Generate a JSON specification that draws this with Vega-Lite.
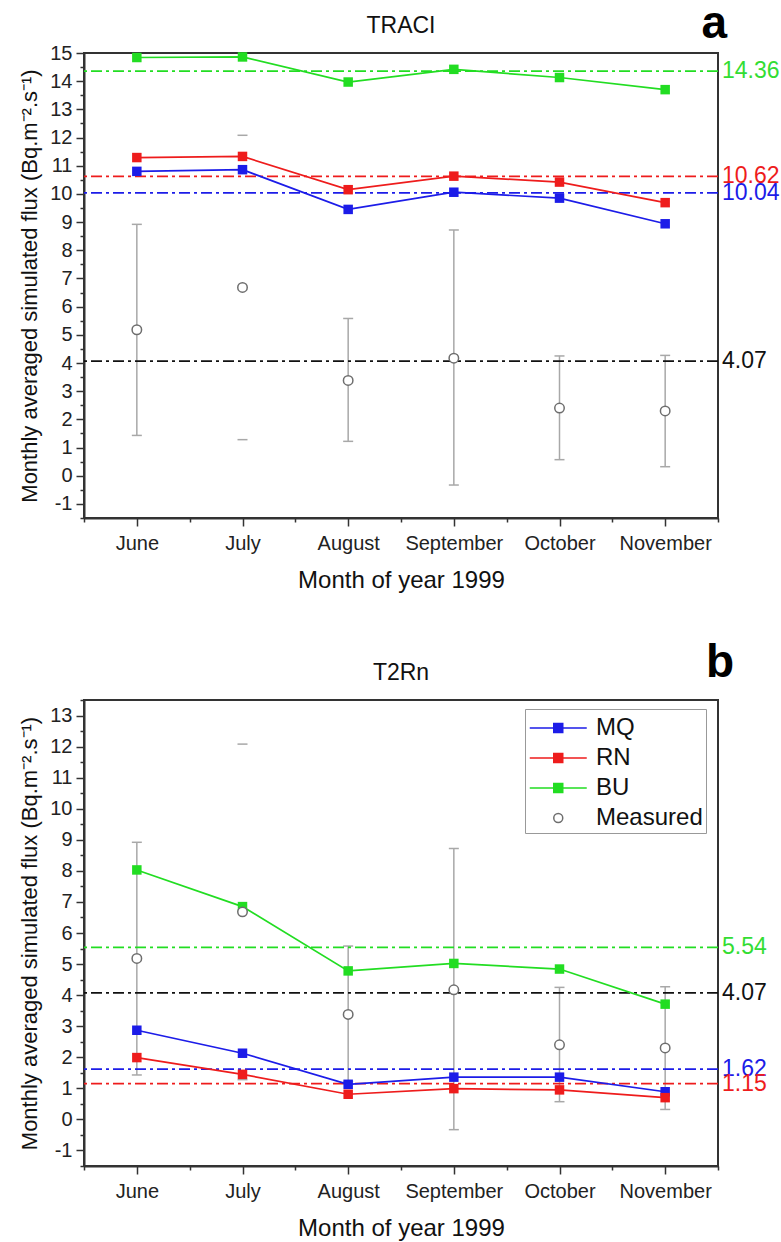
{
  "$schema": "https://vega.github.io/schema/vega-lite/v6.json",
  "padding": {"left": 17, "top": 0, "right": 0, "bottom": 0},
  "background": "white",
  "config": {
    "font": "Liberation Sans",
    "view": {"stroke": "#333333", "strokeWidth": 2},
    "axis": {"grid": false, "domainColor": "#333333", "domainWidth": 2, "tickColor": "#333333", "tickWidth": 1.5, "labelColor": "#222222", "titleColor": "#111111", "titleFontWeight": "normal", "labelOverlap": false, "labelFlush": false}
  },
  "datasets": {
    "traci": [
      {"month": "June", "m": 6, "series": "MQ", "flux": 10.8},
      {"month": "July", "m": 7, "series": "MQ", "flux": 10.86},
      {"month": "August", "m": 8, "series": "MQ", "flux": 9.45},
      {"month": "September", "m": 9, "series": "MQ", "flux": 10.06},
      {"month": "October", "m": 10, "series": "MQ", "flux": 9.85},
      {"month": "November", "m": 11, "series": "MQ", "flux": 8.94},
      {"month": "June", "m": 6, "series": "RN", "flux": 11.29},
      {"month": "July", "m": 7, "series": "RN", "flux": 11.33},
      {"month": "August", "m": 8, "series": "RN", "flux": 10.15},
      {"month": "September", "m": 9, "series": "RN", "flux": 10.63},
      {"month": "October", "m": 10, "series": "RN", "flux": 10.42},
      {"month": "November", "m": 11, "series": "RN", "flux": 9.69},
      {"month": "June", "m": 6, "series": "BU", "flux": 14.84},
      {"month": "July", "m": 7, "series": "BU", "flux": 14.86},
      {"month": "August", "m": 8, "series": "BU", "flux": 13.97},
      {"month": "September", "m": 9, "series": "BU", "flux": 14.42},
      {"month": "October", "m": 10, "series": "BU", "flux": 14.13},
      {"month": "November", "m": 11, "series": "BU", "flux": 13.7}
    ],
    "t2rn": [
      {"month": "June", "m": 6, "series": "MQ", "flux": 2.87},
      {"month": "July", "m": 7, "series": "MQ", "flux": 2.13},
      {"month": "August", "m": 8, "series": "MQ", "flux": 1.13},
      {"month": "September", "m": 9, "series": "MQ", "flux": 1.36},
      {"month": "October", "m": 10, "series": "MQ", "flux": 1.36},
      {"month": "November", "m": 11, "series": "MQ", "flux": 0.89},
      {"month": "June", "m": 6, "series": "RN", "flux": 1.99},
      {"month": "July", "m": 7, "series": "RN", "flux": 1.45},
      {"month": "August", "m": 8, "series": "RN", "flux": 0.81},
      {"month": "September", "m": 9, "series": "RN", "flux": 0.99},
      {"month": "October", "m": 10, "series": "RN", "flux": 0.95},
      {"month": "November", "m": 11, "series": "RN", "flux": 0.7},
      {"month": "June", "m": 6, "series": "BU", "flux": 8.03},
      {"month": "July", "m": 7, "series": "BU", "flux": 6.85},
      {"month": "August", "m": 8, "series": "BU", "flux": 4.78},
      {"month": "September", "m": 9, "series": "BU", "flux": 5.02},
      {"month": "October", "m": 10, "series": "BU", "flux": 4.84},
      {"month": "November", "m": 11, "series": "BU", "flux": 3.71}
    ],
    "measured": [
      {"month": "June", "m": 6, "series": "Measured", "flux": 5.18, "lo": 1.43, "hi": 8.92},
      {"month": "July", "m": 7, "series": "Measured", "flux": 6.68, "lo": 1.28, "hi": 12.08},
      {"month": "August", "m": 8, "series": "Measured", "flux": 3.38, "lo": 1.22, "hi": 5.58},
      {"month": "September", "m": 9, "series": "Measured", "flux": 4.17, "lo": -0.33, "hi": 8.72},
      {"month": "October", "m": 10, "series": "Measured", "flux": 2.4, "lo": 0.57, "hi": 4.25},
      {"month": "November", "m": 11, "series": "Measured", "flux": 2.3, "lo": 0.32, "hi": 4.27}
    ],
    "refs_a": [
      {"series": "BU", "mean": 14.36},
      {"series": "RN", "mean": 10.62},
      {"series": "MQ", "mean": 10.04},
      {"series": "Measured", "mean": 4.07}
    ],
    "refs_b": [
      {"series": "BU", "mean": 5.54},
      {"series": "Measured", "mean": 4.07},
      {"series": "MQ", "mean": 1.62},
      {"series": "RN", "mean": 1.15}
    ]
  },
  "vconcat": [
    {
      "width": 634,
      "height": 465,
      "resolve": {"axis": {"x": "independent", "y": "independent"}},
      "layer": [
        {
          "data": {"name": "measured"},
          "transform": [{"filter": "datum.month !== 'July'"}],
          "mark": {"type": "rule", "color": "#a8a8a8", "strokeWidth": 1.5},
          "encoding": {
            "x": {"field": "m", "type": "quantitative", "scale": {"domain": [5.5, 11.5], "nice": false, "zero": false},
              "axis": {"orient": "bottom", "values": [6, 7, 8, 9, 10, 11],
                "labelExpr": "['June','July','August','September','October','November'][datum.value - 6]",
                "tickSize": 8, "labelFontSize": 20, "labelPadding": 7, "title": "Month of year 1999", "titleFontSize": 24, "titlePadding": 15}},
            "y": {"field": "lo", "type": "quantitative", "scale": {"domain": [-1.5, 15], "nice": false, "zero": false},
              "axis": {"orient": "left", "values": [-1, 0, 1, 2, 3, 4, 5, 6, 7, 8, 9, 10, 11, 12, 13, 14, 15],
                "labelExpr": "'' + datum.value",
                "tickSize": 8, "labelFontSize": 20, "labelPadding": 4,
                "title": "Monthly averaged simulated  flux (Bq.m⁻².s⁻¹)", "titleFontSize": 22, "titlePadding": 8}},
            "y2": {"field": "hi"}
          }
        },
        {
          "data": {"name": "measured"},
          "mark": {"type": "tick", "orient": "horizontal", "color": "#a8a8a8", "size": 10, "thickness": 1.5, "opacity": 1},
          "encoding": {
            "x": {"field": "m", "type": "quantitative",
              "axis": {"orient": "bottom", "values": [5.5, 6.5, 7.5, 8.5, 9.5, 10.5, 11.5], "tickSize": 4, "labels": false, "domain": false, "title": null}},
            "y": {"field": "lo", "type": "quantitative",
              "axis": {"orient": "left", "values": [-1.5, -0.5, 0.5, 1.5, 2.5, 3.5, 4.5, 5.5, 6.5, 7.5, 8.5, 9.5, 10.5, 11.5, 12.5, 13.5, 14.5], "tickSize": 4, "labels": false, "domain": false, "title": null}}
          }
        },
        {
          "data": {"name": "measured"},
          "mark": {"type": "tick", "orient": "horizontal", "color": "#a8a8a8", "size": 10, "thickness": 1.5, "opacity": 1},
          "encoding": {"x": {"field": "m", "type": "quantitative", "axis": null}, "y": {"field": "hi", "type": "quantitative", "axis": null}}
        },
        {
          "data": {"name": "refs_a"},
          "mark": {"type": "rule", "strokeDash": [11, 4, 3, 4], "strokeWidth": 1.8},
          "encoding": {
            "y": {"field": "mean", "type": "quantitative", "axis": null},
            "stroke": {"field": "series", "type": "nominal", "scale": {"domain": ["MQ", "RN", "BU", "Measured"], "range": ["#1c1ce8", "#ee1c1c", "#22dd22", "#111111"]}, "legend": null}
          }
        },
        {
          "data": {"name": "traci"},
          "mark": {"type": "line", "strokeWidth": 1.7},
          "encoding": {
            "x": {"field": "m", "type": "quantitative", "axis": null},
            "y": {"field": "flux", "type": "quantitative", "axis": null},
            "color": {"field": "series", "type": "nominal", "scale": {"domain": ["MQ", "RN", "BU", "Measured"], "range": ["#1c1ce8", "#ee1c1c", "#22dd22", "#6e6e6e"]}, "legend": null}
          }
        },
        {
          "data": {"name": "traci"},
          "mark": {"type": "point", "shape": "square", "filled": true, "size": 90, "opacity": 1},
          "encoding": {
            "x": {"field": "m", "type": "quantitative", "axis": null},
            "y": {"field": "flux", "type": "quantitative", "axis": null},
            "color": {"field": "series", "type": "nominal", "legend": null}
          }
        },
        {
          "data": {"name": "measured"},
          "mark": {"type": "point", "shape": "circle", "filled": false, "fill": "white", "size": 90, "strokeWidth": 1.5, "opacity": 1},
          "encoding": {
            "x": {"field": "m", "type": "quantitative", "axis": null},
            "y": {"field": "flux", "type": "quantitative", "axis": null},
            "color": {"field": "series", "type": "nominal", "legend": null}
          }
        },
        {
          "data": {"name": "refs_a"},
          "mark": {"type": "text", "align": "left", "baseline": "middle", "dx": 4, "fontSize": 23},
          "encoding": {
            "x": {"datum": 11.5, "type": "quantitative", "axis": null},
            "y": {"field": "mean", "type": "quantitative", "axis": null},
            "text": {"field": "mean", "type": "quantitative", "format": ".2f"},
            "fill": {"field": "series", "type": "nominal", "scale": {"domain": ["MQ", "RN", "BU", "Measured"], "range": ["#1c1ce8", "#ee1c1c", "#33dd33", "#111111"]}, "legend": null}
          }
        },
        {
          "data": {"values": [{"model": "TRACI", "panel": "a"}]},
          "mark": {"type": "text", "align": "center", "baseline": "alphabetic", "dy": -20, "fontSize": 23, "color": "#111111"},
          "encoding": {"x": {"datum": 8.5, "type": "quantitative", "axis": null}, "y": {"datum": 15, "type": "quantitative", "axis": null}, "text": {"field": "model"}}
        },
        {
          "data": {"values": [{"model": "TRACI", "panel": "a"}]},
          "mark": {"type": "text", "align": "right", "baseline": "alphabetic", "dx": 9, "dy": -15, "fontSize": 46, "fontWeight": "bold", "color": "#000000"},
          "encoding": {"x": {"datum": 11.5, "type": "quantitative", "axis": null}, "y": {"datum": 15, "type": "quantitative", "axis": null}, "text": {"field": "panel"}}
        }
      ]
    },
    {
      "width": 634,
      "height": 466,
      "resolve": {"axis": {"x": "independent", "y": "independent"}},
      "layer": [
        {
          "data": {"name": "measured"},
          "transform": [{"filter": "datum.month !== 'July'"}],
          "mark": {"type": "rule", "color": "#a8a8a8", "strokeWidth": 1.5},
          "encoding": {
            "x": {"field": "m", "type": "quantitative", "scale": {"domain": [5.5, 11.5], "nice": false, "zero": false},
              "axis": {"orient": "bottom", "values": [6, 7, 8, 9, 10, 11],
                "labelExpr": "['June','July','August','September','October','November'][datum.value - 6]",
                "tickSize": 8, "labelFontSize": 20, "labelPadding": 7, "title": "Month of year 1999", "titleFontSize": 24, "titlePadding": 15}},
            "y": {"field": "lo", "type": "quantitative", "scale": {"domain": [-1.5, 13.5], "nice": false, "zero": false},
              "axis": {"orient": "left", "values": [-1, 0, 1, 2, 3, 4, 5, 6, 7, 8, 9, 10, 11, 12, 13],
                "labelExpr": "'' + datum.value",
                "tickSize": 8, "labelFontSize": 20, "labelPadding": 4,
                "title": "Monthly averaged simulated  flux (Bq.m⁻².s⁻¹)", "titleFontSize": 22, "titlePadding": 8}},
            "y2": {"field": "hi"}
          }
        },
        {
          "data": {"name": "measured"},
          "mark": {"type": "tick", "orient": "horizontal", "color": "#a8a8a8", "size": 10, "thickness": 1.5, "opacity": 1},
          "encoding": {
            "x": {"field": "m", "type": "quantitative",
              "axis": {"orient": "bottom", "values": [5.5, 6.5, 7.5, 8.5, 9.5, 10.5, 11.5], "tickSize": 4, "labels": false, "domain": false, "title": null}},
            "y": {"field": "lo", "type": "quantitative",
              "axis": {"orient": "left", "values": [-1.5, -0.5, 0.5, 1.5, 2.5, 3.5, 4.5, 5.5, 6.5, 7.5, 8.5, 9.5, 10.5, 11.5, 12.5, 13.5], "tickSize": 4, "labels": false, "domain": false, "title": null}}
          }
        },
        {
          "data": {"name": "measured"},
          "mark": {"type": "tick", "orient": "horizontal", "color": "#a8a8a8", "size": 10, "thickness": 1.5, "opacity": 1},
          "encoding": {"x": {"field": "m", "type": "quantitative", "axis": null}, "y": {"field": "hi", "type": "quantitative", "axis": null}}
        },
        {
          "data": {"name": "refs_b"},
          "mark": {"type": "rule", "strokeDash": [11, 4, 3, 4], "strokeWidth": 1.8},
          "encoding": {
            "y": {"field": "mean", "type": "quantitative", "axis": null},
            "stroke": {"field": "series", "type": "nominal", "scale": {"domain": ["MQ", "RN", "BU", "Measured"], "range": ["#1c1ce8", "#ee1c1c", "#22dd22", "#111111"]}, "legend": null}
          }
        },
        {
          "data": {"name": "t2rn"},
          "mark": {"type": "line", "strokeWidth": 1.7},
          "encoding": {
            "x": {"field": "m", "type": "quantitative", "axis": null},
            "y": {"field": "flux", "type": "quantitative", "axis": null},
            "color": {"field": "series", "type": "nominal", "scale": {"domain": ["MQ", "RN", "BU", "Measured"], "range": ["#1c1ce8", "#ee1c1c", "#22dd22", "#6e6e6e"]}}
          }
        },
        {
          "data": {"name": "t2rn"},
          "mark": {"type": "point", "shape": "square", "filled": true, "size": 90, "opacity": 1},
          "encoding": {
            "x": {"field": "m", "type": "quantitative", "axis": null},
            "y": {"field": "flux", "type": "quantitative", "axis": null},
            "color": {"field": "series", "type": "nominal",
              "legend": {
                "orient": "none", "legendX": 441, "legendY": 9, "title": null,
                "symbolSize": 900, "labelFontSize": 24, "labelColor": "#111111", "labelOffset": 36,
                "rowPadding": 2, "padding": 3, "strokeColor": "#999999", "fillColor": "white",
                "encoding": {
                  "symbols": {
                    "shape": {"condition": {"test": "datum.value === 'Measured'", "value": "M1.25,0A0.3,0.3,0,1,1,0.65,0A0.3,0.3,0,1,1,1.25,0Z"}, "value": "M-0.95,0H2.85M0.65,-0.3H1.25V0.3H0.65Z"},
                    "fillOpacity": {"condition": {"test": "datum.value === 'Measured'", "value": 0}, "value": 1},
                    "strokeWidth": {"value": 1.5},
                    "opacity": {"value": 1}
                  }
                }
              }}
          }
        },
        {
          "data": {"name": "measured"},
          "mark": {"type": "point", "shape": "circle", "filled": false, "fill": "white", "size": 90, "strokeWidth": 1.5, "opacity": 1},
          "encoding": {
            "x": {"field": "m", "type": "quantitative", "axis": null},
            "y": {"field": "flux", "type": "quantitative", "axis": null},
            "color": {"field": "series", "type": "nominal"}
          }
        },
        {
          "data": {"name": "refs_b"},
          "mark": {"type": "text", "align": "left", "baseline": "middle", "dx": 4, "fontSize": 23},
          "encoding": {
            "x": {"datum": 11.5, "type": "quantitative", "axis": null},
            "y": {"field": "mean", "type": "quantitative", "axis": null},
            "text": {"field": "mean", "type": "quantitative", "format": ".2f"},
            "fill": {"field": "series", "type": "nominal", "scale": {"domain": ["MQ", "RN", "BU", "Measured"], "range": ["#1c1ce8", "#ee1c1c", "#33dd33", "#111111"]}, "legend": null}
          }
        },
        {
          "data": {"values": [{"model": "T2Rn", "panel": "b"}]},
          "mark": {"type": "text", "align": "center", "baseline": "alphabetic", "dy": -20, "fontSize": 23, "color": "#111111"},
          "encoding": {"x": {"datum": 8.5, "type": "quantitative", "axis": null}, "y": {"datum": 13.5, "type": "quantitative", "axis": null}, "text": {"field": "model"}}
        },
        {
          "data": {"values": [{"model": "T2Rn", "panel": "b"}]},
          "mark": {"type": "text", "align": "right", "baseline": "alphabetic", "dx": 16, "dy": -23, "fontSize": 46, "fontWeight": "bold", "color": "#000000"},
          "encoding": {"x": {"datum": 11.5, "type": "quantitative", "axis": null}, "y": {"datum": 13.5, "type": "quantitative", "axis": null}, "text": {"field": "panel"}}
        }
      ]
    }
  ],
  "spacing": 182,
  "bounds": "flush",
  "resolve": {"scale": {"color": "independent"}, "legend": {"color": "independent"}}
}
